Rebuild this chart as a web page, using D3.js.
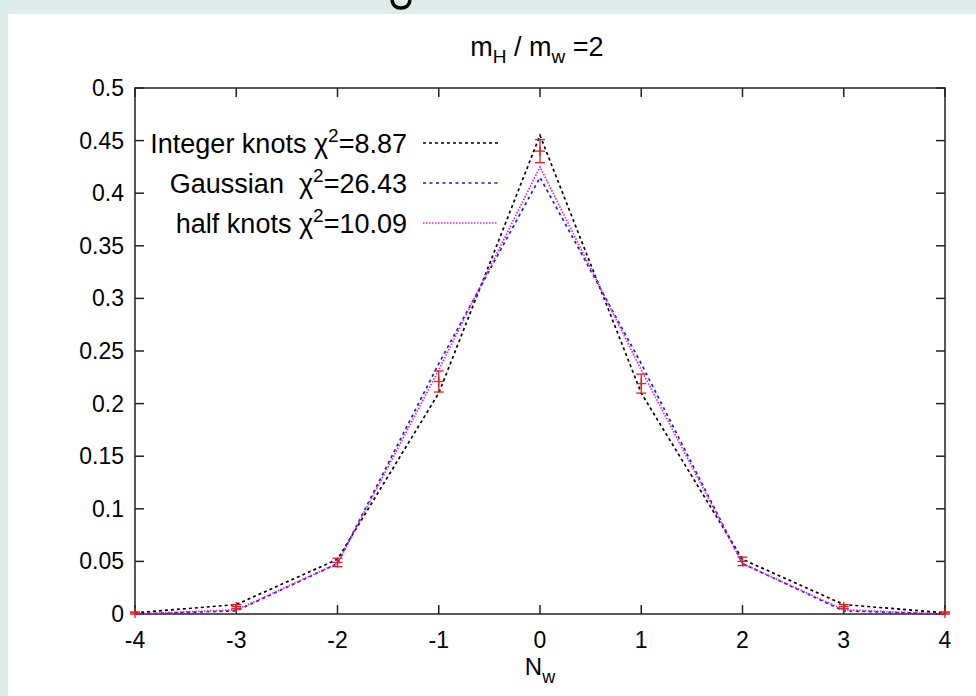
<!DOCTYPE html>
<html><head><meta charset="utf-8">
<script src="https://cdn.jsdelivr.net/npm/d3@7"></script>
<style>
html,body{margin:0;padding:0;background:#dfecec;}
svg{display:block;}
</style></head>
<body>
<svg id="chart" width="976" height="696"></svg>
<script>
const xValues = [-4, -3, -2, -1, 0, 1, 2, 3, 4];
const dataValues = [0.001, 0.007, 0.049, 0.221, 0.440, 0.219, 0.050, 0.007, 0.001];
const dataErrors = [0.001, 0.002, 0.004, 0.010, 0.011, 0.009, 0.004, 0.002, 0.001];
const integerKnots = [0.001, 0.009, 0.052, 0.210, 0.455, 0.210, 0.052, 0.009, 0.001];
const gaussian = [0.000, 0.003, 0.048, 0.238, 0.415, 0.238, 0.048, 0.003, 0.000];
const halfKnots = [0.000, 0.004, 0.048, 0.232, 0.425, 0.232, 0.048, 0.004, 0.000];
const xTicks = [-4, -3, -2, -1, 0, 1, 2, 3, 4];
const yTicks = [0, 0.05, 0.1, 0.15, 0.2, 0.25, 0.3, 0.35, 0.4, 0.45, 0.5];
const seriesNames = ["Integer knots", "Gaussian ", "half knots"];
const chiValues = ["8.87", "26.43", "10.09"];

const svg = d3.select("#chart");
const font = "'Liberation Sans', Arial, Helvetica, sans-serif";

// backgrounds
svg.append("rect").attr("x", 0).attr("y", 0).attr("width", 976).attr("height", 696).attr("fill", "#dfecec");
svg.append("rect").attr("x", 8).attr("y", 14).attr("width", 968).attr("height", 682).attr("fill", "#ffffff");
// fragment of a cropped heading glyph at the top edge
svg.append("path").attr("d", "M392,0 Q393,8 401,8 Q409,8 410,0").attr("fill", "none")
  .attr("stroke", "#000").attr("stroke-width", 3.5);

const L = 135, R = 945, T = 88, B = 614;
const x = d3.scaleLinear().domain([-4, 4]).range([L, R]);
const y = d3.scaleLinear().domain([0, 0.5]).range([B, T]);

const axisColor = "#222";
const tickLen = 9;
const g = svg.append("g");

// ticks (inward, mirrored)
xTicks.forEach(v => {
  g.append("line").attr("x1", x(v)).attr("x2", x(v)).attr("y1", B).attr("y2", B - tickLen).attr("stroke", axisColor).attr("stroke-width", 1.5);
  g.append("line").attr("x1", x(v)).attr("x2", x(v)).attr("y1", T).attr("y2", T + tickLen).attr("stroke", axisColor).attr("stroke-width", 1.5);
  g.append("text").attr("x", x(v)).attr("y", 648).attr("text-anchor", "middle")
    .attr("font-family", font).attr("font-size", 23).attr("fill", "#000").text(String(v));
});
yTicks.forEach(v => {
  g.append("line").attr("x1", L).attr("x2", L + tickLen).attr("y1", y(v)).attr("y2", y(v)).attr("stroke", axisColor).attr("stroke-width", 1.5);
  g.append("line").attr("x1", R).attr("x2", R - tickLen).attr("y1", y(v)).attr("y2", y(v)).attr("stroke", axisColor).attr("stroke-width", 1.5);
  g.append("text").attr("x", 124).attr("y", y(v) + 8).attr("text-anchor", "end")
    .attr("font-family", font).attr("font-size", 23).attr("fill", "#000").text(String(v));
});

// frame
g.append("rect").attr("x", L).attr("y", T).attr("width", R - L).attr("height", B - T)
  .attr("fill", "none").attr("stroke", axisColor).attr("stroke-width", 1.5);

// curves
const line = d3.line().x((d, i) => x(xValues[i])).y(d => y(d));
const styles = [
  {data: integerKnots, color: "#000000", dash: "3,3", width: 1.7},
  {data: gaussian, color: "#1a1adc", dash: "3,3.5", width: 1.7},
  {data: halfKnots, color: "#e020e0", dash: "1.5,1.5", width: 1.7}
];
styles.forEach(s => {
  g.append("path").attr("d", line(s.data)).attr("fill", "none")
    .attr("stroke", s.color).attr("stroke-width", s.width).attr("stroke-dasharray", s.dash);
});

// error bars
const red = "#e02020";
const cap = 5;
xValues.forEach((xv, i) => {
  const cx = x(xv), v = dataValues[i], e = dataErrors[i];
  g.append("line").attr("x1", cx).attr("x2", cx).attr("y1", y(v - e)).attr("y2", y(v + e)).attr("stroke", red).attr("stroke-width", 1.3);
  g.append("line").attr("x1", cx - cap).attr("x2", cx + cap).attr("y1", y(v - e)).attr("y2", y(v - e)).attr("stroke", red).attr("stroke-width", 1.3);
  g.append("line").attr("x1", cx - cap).attr("x2", cx + cap).attr("y1", y(v + e)).attr("y2", y(v + e)).attr("stroke", red).attr("stroke-width", 1.3);
  g.append("line").attr("x1", cx - cap).attr("x2", cx + cap).attr("y1", y(v)).attr("y2", y(v)).attr("stroke", red).attr("stroke-width", 1.3);
  g.append("line").attr("x1", cx).attr("x2", cx).attr("y1", y(v) - cap).attr("y2", y(v) + cap).attr("stroke", red).attr("stroke-width", 1.3);
});

// legend
const legendY = [143, 183, 223];
styles.forEach((s, i) => {
  const ly = legendY[i];
  const t = g.append("text").attr("x", 407).attr("y", ly + 10).attr("text-anchor", "end")
    .attr("font-family", font).attr("font-size", 27).attr("fill", "#000")
    .style("white-space", "pre");
  t.append("tspan").text(seriesNames[i] + " \u03C7");
  t.append("tspan").attr("dy", -11).attr("font-size", 19).text("2");
  t.append("tspan").attr("dy", 11).text("=" + chiValues[i]);
  g.append("line").attr("x1", 423).attr("x2", 498).attr("y1", ly).attr("y2", ly)
    .attr("stroke", s.color).attr("stroke-width", s.width).attr("stroke-dasharray", s.dash);
});

// title
const title = svg.append("text").attr("x", 537).attr("y", 56).attr("text-anchor", "middle")
  .attr("font-family", "'Liberation Sans Narrow', 'Liberation Sans', Arial, sans-serif")
  .attr("font-size", 27).attr("fill", "#000").style("white-space", "pre");
title.append("tspan").text("m");
title.append("tspan").attr("dy", 7).attr("font-size", 19).text("H");
title.append("tspan").attr("dy", -7).text(" / m");
title.append("tspan").attr("dy", 7).attr("font-size", 19).text("w");
title.append("tspan").attr("dy", -7).text(" =2");

// x label
const xl = svg.append("text").attr("x", 540).attr("y", 675).attr("text-anchor", "middle")
  .attr("font-family", font).attr("font-size", 24).attr("fill", "#000");
xl.append("tspan").text("N");
xl.append("tspan").attr("dy", 8).attr("font-size", 18).text("w");
</script>
</body></html>
